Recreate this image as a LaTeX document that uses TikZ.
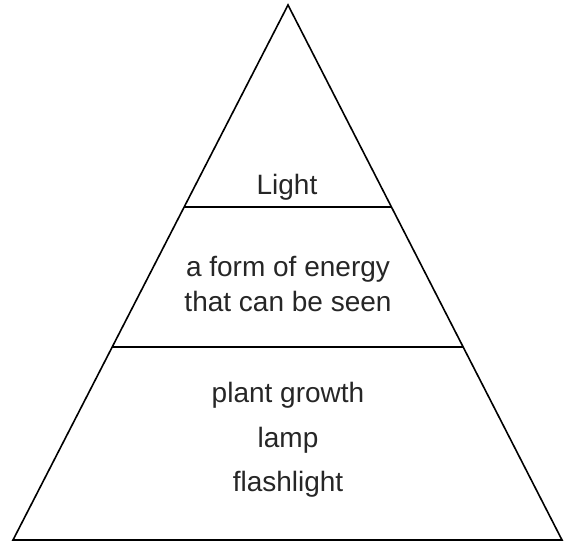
\documentclass[tikz,border=0pt]{standalone}
\usepackage{fontspec}
\setmainfont{Liberation Sans}
\usetikzlibrary{calc}

\begin{document}
\begin{tikzpicture}[x=1pt,y=-1pt,line width=1.6pt,line join=miter]
\useasboundingbox (0,0) rectangle (569,544);
\coordinate (top) at (288,5);
\coordinate (bl) at (13,540);
\coordinate (br) at (562,540);
\coordinate (l1) at ($(top)!0.3776!(bl)$);
\coordinate (r1) at ($(top)!0.3776!(br)$);
\coordinate (l2) at ($(top)!0.6393!(bl)$);
\coordinate (r2) at ($(top)!0.6393!(br)$);
 \begin{scope}[every node/.style={anchor=base, inner sep=0pt, text=black!85, font=\fontsize{28}{32}\selectfont}]
  \node (light) at (287,194) {Light};
  \node (def1) at (288,276) {a form of energy};
  \node (def2) at (288,311) {that can be seen};
  \node (ex1) at (288,402) {plant growth};
  \node (ex2) at (288,447) {lamp};
  \node (ex3) at (288,491) {flashlight};
 \end{scope}
  \draw (top) -- (bl) -- (br) -- cycle;
  \draw (l1) -- (r1);
  \draw (l2) -- (r2);
\end{tikzpicture}
\end{document}
